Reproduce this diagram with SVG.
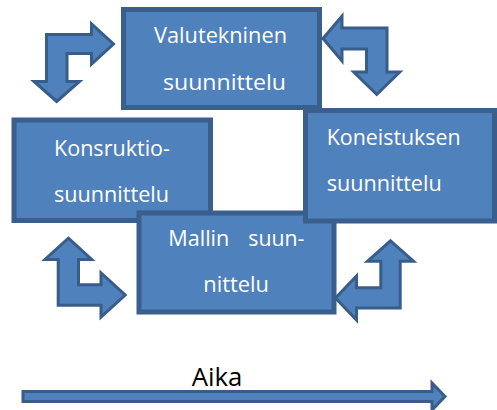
<svg xmlns="http://www.w3.org/2000/svg" width="497" height="410" viewBox="0 0 497 410">
  <style>
    .box { fill: #4f81bd; stroke: #3a5f8c; stroke-width: 5; }
    .lbl { font-family: "Open Sans", "Liberation Sans", sans-serif; font-size: 22px; fill: #ffffff; }
    .cyc { fill: #4f81bd; stroke: #385d8a; stroke-width: 3; stroke-linejoin: miter; }
    .time { fill: #4f81bd; stroke: #385d8a; stroke-width: 3; }
    .axis { font-family: "Open Sans", "Liberation Sans", sans-serif; font-size: 26px; fill: #000000; }
  </style>
  <rect width="497" height="410" fill="#ffffff"/>

  <g id="valutekninen">
    <rect class="box" x="123.5" y="9.5" width="196" height="98"/>
    <text class="lbl" x="154" y="43" textLength="133" lengthAdjust="spacingAndGlyphs">Valutekninen</text>
    <text class="lbl" x="163" y="90" textLength="123" lengthAdjust="spacingAndGlyphs">suunnittelu</text>
  </g>

  <g id="konstruktio">
    <rect class="box" x="14" y="120" width="196.5" height="100.5"/>
    <text class="lbl" x="54" y="155.7" textLength="116" lengthAdjust="spacingAndGlyphs">Konsruktio-</text>
    <text class="lbl" x="54" y="201.7" textLength="115" lengthAdjust="spacingAndGlyphs">suunnittelu</text>
  </g>

  <g id="malli">
    <rect class="box" x="139" y="213" width="195" height="99"/>
    <text class="lbl" y="245.7"><tspan x="168.3" textLength="61" lengthAdjust="spacingAndGlyphs">Mallin</tspan><tspan x="248.3" textLength="56" lengthAdjust="spacingAndGlyphs">suun-</tspan></text>
    <text class="lbl" x="203.3" y="291.7" textLength="65.7" lengthAdjust="spacingAndGlyphs">nittelu</text>
  </g>

  <g id="koneistus">
    <rect class="box" x="305.5" y="110.5" width="189" height="110.5"/>
    <text class="lbl" x="326.7" y="145" textLength="134" lengthAdjust="spacingAndGlyphs">Koneistuksen</text>
    <text class="lbl" x="326.7" y="190.7" textLength="115" lengthAdjust="spacingAndGlyphs">suunnittelu</text>
  </g>

  <g id="connectors">
    <!-- bent double-headed arrows between the design phases -->
    <path class="cyc" d="M56.75,101.5 L34,81.5 L46.5,81.5 L46.5,34.5 L91.5,34.5 L91.5,24 L113.5,44 L91.5,64 L91.5,53.5 L67,53.5 L67,81.5 L79.5,81.5 Z"/>
    <path class="cyc" d="M323,38.5 L342,16 L342,28 L387,28 L387,72 L399.75,72 L376.75,94.5 L353.75,72 L366.5,72 L366.5,49 L342,49 L342,61 Z"/>
    <path class="cyc" d="M68.35,238.2 L91.7,259.5 L78.5,259.5 L78.5,284.8 L101,284.8 L101,273 L125.2,295 L101,317 L101,305.2 L58.2,305.2 L58.2,259.5 L45,259.5 Z"/>
    <path class="cyc" d="M390.5,240.8 L413.5,261.2 L400.2,261.2 L400.2,308 L356.5,308 L356.5,320 L335.5,298 L356.5,276 L356.5,287.8 L380.8,287.8 L380.8,261.2 L367.5,261.2 Z"/>
    <!-- time axis -->
    <path class="time" d="M23,391.5 L432,391.5 L432,383 L445,396.5 L432,410 L432,401.5 L23,401.5 Z"/>
  </g>
  <text class="axis" x="191.7" y="386" textLength="50.6" lengthAdjust="spacingAndGlyphs">Aika</text>
</svg>
